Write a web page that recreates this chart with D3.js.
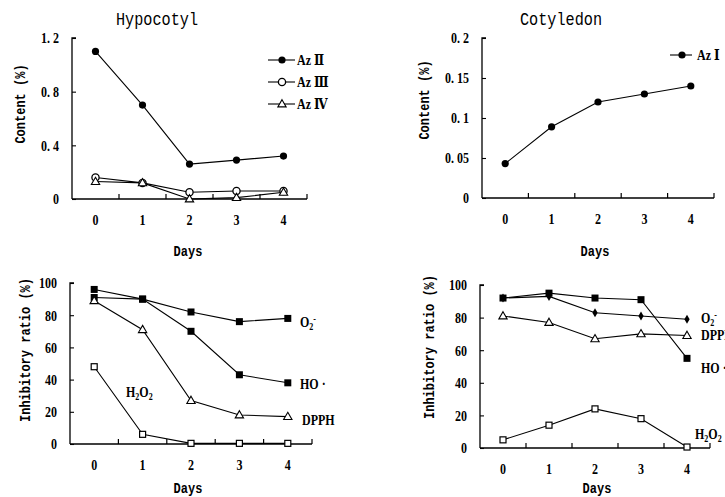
<!DOCTYPE html>
<html>
<head>
<meta charset="utf-8">
<script src="https://cdn.jsdelivr.net/npm/d3@7"></script>
<style>
  body { margin: 0; background: #fff; }
  svg { display: block; }
  .num { font-family: "Liberation Serif", "DejaVu Serif", serif; font-weight: bold; font-size: 15px; fill: #000; }
  .title { font-family: "Liberation Mono", "DejaVu Sans Mono", monospace; font-size: 19px; fill: #000; }
  .axisText { font-family: "Liberation Mono", "DejaVu Sans Mono", monospace; font-weight: bold; font-size: 15px; fill: #000; }
  .lab { font-family: "Liberation Serif", "DejaVu Serif", serif; font-weight: bold; font-size: 15px; fill: #000; }
</style>
</head>
<body>
<div class="chart"></div>
<script>
// Data
var days = ["0", "1", "2", "3", "4"];

// Hypocotyl content (%)
var hypoAz2 = [1.10, 0.70, 0.26, 0.29, 0.32];
var hypoAz3 = [0.16, 0.12, 0.05, 0.06, 0.06];
var hypoAz4 = [0.13, 0.12, 0.00, 0.01, 0.05];
var hypoTicks = [0, 0.4, 0.8, 1.2];
var hypoTickLabels = ["0", "0. 4", "0. 8", "1. 2"];

// Cotyledon content (%)
var cotyAz1 = [0.043, 0.089, 0.12, 0.13, 0.14];
var cotyTicks = [0, 0.05, 0.1, 0.15, 0.2];
var cotyTickLabels = ["0", "0. 05", "0. 1", "0. 15", "0. 2"];

// Inhibitory ratio (%) - hypocotyl
var hypoO2 = [91, 90, 82, 76, 78];
var hypoHO = [96, 90, 70, 43, 38];
var hypoDPPH = [89, 71, 27, 18, 17];
var hypoH2O2 = [48, 6, 0.4, 0.4, 0.4];

// Inhibitory ratio (%) - cotyledon
var cotyO2 = [92, 93, 83, 81, 79];
var cotyHO = [92, 95, 92, 91, 55];
var cotyDPPH = [81, 77, 67, 70, 69];
var cotyH2O2 = [5, 14, 24, 18, 0.6];

var ratioTicks = [0, 20, 40, 60, 80, 100];

var SX = 0.8; // horizontal squeeze for the narrow fonts of the scan

var svg = d3.select(".chart")
  .append("svg")
  .attr("width", 725)
  .attr("height", 497);

// narrow text: placed with a group, squeezed horizontally
function narrowText(g, x, y, str, cls, anchor, sx) {
  var t = g.append("g").attr("transform", `translate(${x},${y}) scale(${sx || SX},1)`)
    .append("text").attr("class", cls).attr("text-anchor", anchor || "start");
  if (str) t.text(str);
  return t;
}

// marker drawing
function drawMarker(g, type, x, y) {
  if (type == "dot") {
    g.append("circle").attr("cx", x).attr("cy", y).attr("r", 3.6).attr("fill", "#000");
  } else if (type == "circle") {
    g.append("circle").attr("cx", x).attr("cy", y).attr("r", 3.6).attr("fill", "#fff").attr("stroke", "#000").attr("stroke-width", 1.3);
  } else if (type == "tri") {
    g.append("path").attr("d", d3.symbol(d3.symbolTriangle, 30)()).attr("transform", `translate(${x},${y + 0.5})`)
      .attr("fill", "#fff").attr("stroke", "#000").attr("stroke-width", 1.1);
  } else if (type == "square") {
    g.append("rect").attr("x", x - 3.5).attr("y", y - 3.5).attr("width", 7).attr("height", 7).attr("fill", "#000");
  } else if (type == "osquare") {
    g.append("rect").attr("x", x - 3).attr("y", y - 3).attr("width", 6).attr("height", 6).attr("fill", "#fff").attr("stroke", "#000").attr("stroke-width", 1.2);
  } else if (type == "diamond") {
    g.append("path").attr("d", d3.symbol(d3.symbolDiamond, 24)()).attr("transform", `translate(${x},${y})`).attr("fill", "#000");
  }
}

function panel(opt) {
  var x = d3.scaleBand().domain(days).range([opt.x0, opt.x1]);
  var y = d3.scaleLinear().domain(opt.yDomain).range([opt.yBottom, opt.yTop]);
  var g = svg.append("g");
  var cx = d => x(d) + x.bandwidth() / 2;

  // x axis with ticks between the categories
  var xAxisG = g.append("g").attr("transform", `translate(0, ${opt.yBottom})`);
  xAxisG.append("line").attr("x1", opt.x0).attr("x2", opt.x1).attr("stroke", "#000").attr("stroke-width", 1.3);
  xAxisG.selectAll(".xt").data(days).enter().append("line")
    .attr("x1", d => x(d) + x.bandwidth()).attr("x2", d => x(d) + x.bandwidth())
    .attr("y1", 0).attr("y2", -5).attr("stroke", "#000").attr("stroke-width", 1.2);
  days.forEach(function (d) {
    narrowText(xAxisG, cx(d), 26, d, "num", "middle");
  });

  // y axis
  var yAxis = d3.axisLeft(y).tickValues(opt.ticks).tickSize(-4).tickPadding(12)
    .tickFormat((d, i) => opt.tickLabels ? opt.tickLabels[i] : d);
  var yAxisG = g.append("g").attr("transform", `translate(${opt.x0}, 0)`).call(yAxis);
  yAxisG.select(".domain").attr("stroke-width", 1.3).attr("d", `M0,${opt.yBottom}V${opt.yTop}h4`);
  yAxisG.selectAll(".tick line").attr("stroke-width", 1.1);
  yAxisG.selectAll(".tick text").attr("class", "num").attr("font-family", null).attr("font-size", null)
    .attr("transform", `scale(${SX},1)`).attr("x", -13 / SX);

  // series
  var line = d3.line().x((d, i) => cx(days[i])).y(d => y(d));
  opt.series.forEach(function (s) {
    g.append("path").datum(s.values).attr("d", line).attr("fill", "none").attr("stroke", "#000").attr("stroke-width", 1.1);
  });
  opt.series.forEach(function (s) {
    s.values.forEach(function (v, i) {
      drawMarker(g, s.marker, cx(days[i]), y(v));
    });
  });

  // y label
  g.append("g").attr("transform", `translate(${opt.yLabelX}, ${opt.yLabelY}) rotate(-90) scale(${SX},1)`)
    .append("text").attr("class", "axisText")
    .attr("text-anchor", "middle").attr("dy", "0.35em")
    .text(opt.yLabel);

  // x label
  narrowText(g, opt.daysX, opt.daysY, "Days", "axisText", "middle");

  if (opt.title) {
    narrowText(g, opt.titleX, 25, opt.title, "title", "middle");
  }
  return { x: x, y: y, g: g };
}

// Hypocotyl content
var p1 = panel({
  x0: 72, x1: 307, yTop: 38, yBottom: 199, yDomain: [0, 1.2],
  ticks: hypoTicks, tickLabels: hypoTickLabels,
  yLabel: "Content (%)", yLabelX: 20, yLabelY: 104,
  title: "Hypocotyl", titleX: 157, daysX: 188, daysY: 256,
  series: [
    { values: hypoAz2, marker: "dot" },
    { values: hypoAz3, marker: "circle" },
    { values: hypoAz4, marker: "tri" }
  ]
});

// legend
var legendItems = [
  { name: "Az Ⅱ", marker: "dot" },
  { name: "Az Ⅲ", marker: "circle" },
  { name: "Az Ⅳ", marker: "tri" }
];
legendItems.forEach(function (d, i) {
  var ly = 60 + i * 22;
  p1.g.append("line").attr("x1", 268).attr("x2", 295).attr("y1", ly).attr("y2", ly).attr("stroke", "#000").attr("stroke-width", 1.1);
  drawMarker(p1.g, d.marker, 282, ly);
  narrowText(p1.g, 297, ly + 5, d.name, "lab");
});

// Cotyledon content
var p2 = panel({
  x0: 482, x1: 714, yTop: 38, yBottom: 198, yDomain: [0, 0.2],
  ticks: cotyTicks, tickLabels: cotyTickLabels,
  yLabel: "Content (%)", yLabelX: 424, yLabelY: 100,
  title: "Cotyledon", titleX: 561, daysX: 595, daysY: 256,
  series: [{ values: cotyAz1, marker: "dot" }]
});
p2.g.append("line").attr("x1", 670).attr("x2", 692).attr("y1", 55).attr("y2", 55).attr("stroke", "#000").attr("stroke-width", 1.1);
drawMarker(p2.g, "dot", 682, 55);
narrowText(p2.g, 697, 60, "Az Ⅰ", "lab");

// Hypocotyl inhibitory ratio
var p3 = panel({
  x0: 70, x1: 312, yTop: 283, yBottom: 444, yDomain: [0, 100],
  ticks: ratioTicks,
  yLabel: "Inhibitory ratio (%)", yLabelX: 25, yLabelY: 350,
  daysX: 188, daysY: 493,
  series: [
    { values: hypoO2, marker: "square" },
    { values: hypoHO, marker: "square" },
    { values: hypoDPPH, marker: "tri" },
    { values: hypoH2O2, marker: "osquare" }
  ]
});
function chemLabel(g, x, y, parts) {
  var t = narrowText(g, x, y, null, "lab");
  parts.forEach(function (p) {
    var ts = t.append("tspan").text(p[0]);
    if (p[1] == "sub") ts.attr("dy", 3).attr("font-size", "10px");
    else if (p[1] == "sup") ts.attr("dy", -8).attr("font-size", "10px");
    else if (p[1] == "base") ts.attr("dy", -3);
  });
}
chemLabel(p3.g, 300, 327, [["O"], ["2", "sub"], ["-", "sup"]]);
chemLabel(p3.g, 300, 389, [["HO ·"]]);
chemLabel(p3.g, 302, 425, [["DPPH"]]);
chemLabel(p3.g, 126, 397, [["H"], ["2", "sub"], ["O", "base"], ["2", "sub"]]);

// Cotyledon inhibitory ratio
var p4 = panel({
  x0: 480, x1: 710, yTop: 285, yBottom: 448, yDomain: [0, 100],
  ticks: ratioTicks,
  yLabel: "Inhibitory ratio (%)", yLabelX: 429, yLabelY: 347,
  daysX: 597, daysY: 493,
  series: [
    { values: cotyO2, marker: "diamond" },
    { values: cotyHO, marker: "square" },
    { values: cotyDPPH, marker: "tri" },
    { values: cotyH2O2, marker: "osquare" }
  ]
});
chemLabel(p4.g, 701, 323, [["O"], ["2", "sub"], ["-", "sup"]]);
chemLabel(p4.g, 701, 340, [["DPPH"]]);
chemLabel(p4.g, 701, 373, [["HO ·"]]);
chemLabel(p4.g, 695, 439, [["H"], ["2", "sub"], ["O", "base"], ["2", "sub"]]);
</script>
</body>
</html>
